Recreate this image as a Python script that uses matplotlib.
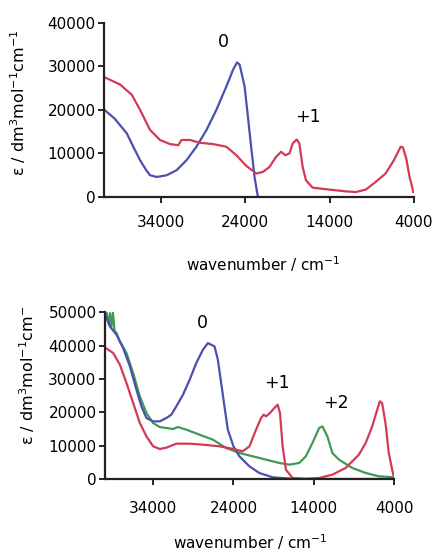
import matplotlib
matplotlib.use('Agg')
import matplotlib.pyplot as plt

plt.rcParams['font.family'] = 'DejaVu Sans'
plt.rcParams['mathtext.default'] = 'regular'

# Top panel: neutral (0) and +1 spectra
top_blue_w = [40700, 39500, 38050, 37200, 36480, 35800, 35300, 34500, 33330, 32150,
              30970, 29800, 28600, 27430, 26240, 25450, 24980, 24670, 24080, 23690,
              23300, 22900, 22500]
top_blue_e = [20000, 18000, 14600, 11200, 8460, 6300, 5000, 4600, 5000, 6150,
              8460, 11540, 15400, 20000, 25400, 29200, 30900, 30400, 25400, 18500,
              11500, 4600, 0]

top_red_w = [40700, 38840, 37460, 36480, 35300, 34120, 32940, 31950, 31560, 30570,
             29400, 27820, 26240, 25060, 23880, 22700, 21900, 21130, 20340, 19750,
             19240, 18760, 18370, 17900, 17580, 17190, 16800, 16010, 14000, 12070,
             10890, 9710, 8530, 7350, 6360, 5570, 5300, 4900, 4510, 4200, 4080]
top_red_e = [27500, 25800, 23460, 20000, 15400, 13100, 12150, 11900, 13100, 13100,
             12460, 12150, 11540, 9600, 7150, 5400, 5770, 6900, 9230, 10380,
             9600, 10000, 12300, 13200, 12300, 6900, 3850, 2150, 1700, 1300,
             1150, 1700, 3460, 5400, 8460, 11540, 11400, 8850, 4600, 2300, 1150]

# Bottom panel: 0, +1 and +2 spectra
bot_blue_w = [39870, 39370, 38550, 37720, 36890, 36070, 35450, 34830, 34000, 33170,
              32350, 31730, 31110, 30280, 29450, 28630, 27800, 27180, 26770, 26350,
              25940, 25530, 25120, 24700, 24000, 23260, 22020, 20780, 19120, 17060,
              11700, 4000]
bot_blue_e = [48800, 45800, 43300, 39300, 33800, 26800, 21800, 18300, 17300, 17300,
              18300, 19300, 21800, 25300, 29800, 34800, 38800, 40800, 40300, 39800,
              35800, 28800, 21800, 14800, 9800, 6800, 3800, 1800, 500, 100,
              0, 0]

bot_green_w = [39790, 39500, 39370, 39200, 39000, 38800, 38550, 38130, 37310, 36480,
               35650, 34830, 34000, 33170, 32350, 31520, 30900, 29870, 28220, 26560,
               24910, 23260, 21600, 19950, 18300, 17060, 15820, 15000, 14170, 13340,
               12930, 12310, 11690, 10860, 9210, 7550, 5900, 4000]
bot_green_e = [49800, 46500, 49800, 45500, 50000, 44500, 43800, 41300, 37800, 31800,
               24800, 19800, 16800, 15600, 15300, 15000, 15600, 14800, 13300, 11800,
               9300, 7800, 6800, 5800, 4800, 4300, 4800, 6800, 10800, 15300,
               15800, 12800, 7800, 5800, 3300, 1800, 800, 500]

bot_red_w = [39870, 38960, 38130, 37310, 36480, 35650, 34830, 34000, 33170, 32350,
             31110, 29450, 27800, 25730, 24000, 22840, 22010, 21190, 20570, 20240,
             19950, 19460, 18920, 18500, 18210, 17880, 17470, 16650, 15000, 13340,
             11690, 10040, 8390, 7550, 6730, 6110, 5780, 5500, 5080, 4670,
             4250, 4050]
bot_red_e = [39300, 37800, 34300, 28800, 22800, 16800, 12800, 9800, 9000, 9400,
             10600, 10600, 10300, 9800, 9000, 8300, 9800, 14800, 18300, 19300,
             18800, 19800, 21300, 22300, 19800, 9800, 2800, 300, 0, 300,
             1300, 3300, 7300, 10800, 15800, 20800, 23300, 22800, 16800, 7800,
             2800, 800]

top_yticks = [0, 10000, 20000, 30000, 40000]
bot_yticks = [0, 10000, 20000, 30000, 40000, 50000]
xticks = [34000, 24000, 14000, 4000]

blue = '#4b4fb0'
red = '#d23a55'
green = '#3f9a55'

fig = plt.figure(figsize=(4.37, 5.55), dpi=100)


def style_axes(ax, pad):
    for s in ['top', 'right']:
        ax.spines[s].set_visible(False)
    for s in ['left', 'bottom']:
        ax.spines[s].set_linewidth(1.6)
        ax.spines[s].set_color('#222222')
    ax.set_xticks(xticks)
    ax.set_xticklabels([str(t) for t in xticks])
    ax.tick_params(axis='x', length=4, width=1.2, pad=pad, labelsize=11)
    ax.tick_params(axis='y', length=4, width=1.2, pad=2, labelsize=11)


# top panel
ax1 = fig.add_axes([0.238, 0.645, 0.709, 0.314])
ax1.plot(top_blue_w, top_blue_e, color=blue, lw=1.6)
ax1.plot(top_red_w, top_red_e, color=red, lw=1.6)
ax1.set_xlim(40760, 4000)
ax1.set_ylim(0, 40000)
ax1.set_yticks(top_yticks)
style_axes(ax1, 9)
ax1.text(26650, 35600, '0', fontsize=12.5, ha='center', va='center')
ax1.text(16560, 18400, '+1', fontsize=12.5, ha='center', va='center')
ax1.set_ylabel('ε / dm$^3$mol$^{-1}$cm$^{-1}$', fontsize=11.5)
ax1.yaxis.set_label_coords(0.064, 0.814, transform=fig.transFigure)
ax1.set_xlabel('wavenumber / cm$^{-1}$', fontsize=11)
ax1.xaxis.set_label_coords(0.602, 0.541, transform=fig.transFigure)

# bottom panel
ax2 = fig.add_axes([0.240, 0.137, 0.662, 0.300])
ax2.plot(bot_green_w, bot_green_e, color=green, lw=1.6)
ax2.plot(bot_blue_w, bot_blue_e, color=blue, lw=1.6)
ax2.plot(bot_red_w, bot_red_e, color=red, lw=1.6)
ax2.set_xlim(40000, 4000)
ax2.set_ylim(0, 50000)
ax2.set_yticks(bot_yticks)
style_axes(ax2, 12)
ax2.text(27900, 46900, '0', fontsize=12.5, ha='center', va='center')
ax2.text(18560, 28900, '+1', fontsize=12.5, ha='center', va='center')
ax2.text(11210, 22800, '+2', fontsize=12.5, ha='center', va='center')
ax2.set_ylabel('ε / dm$^3$mol$^{-1}$cm$^{-}$', fontsize=11.5)
ax2.yaxis.set_label_coords(0.085, 0.323, transform=fig.transFigure)
ax2.set_xlabel('wavenumber / cm$^{-1}$', fontsize=11, va='bottom')
ax2.xaxis.set_label_coords(0.572, 0.006, transform=fig.transFigure)

fig.savefig('out.png', dpi=100, facecolor='white')
